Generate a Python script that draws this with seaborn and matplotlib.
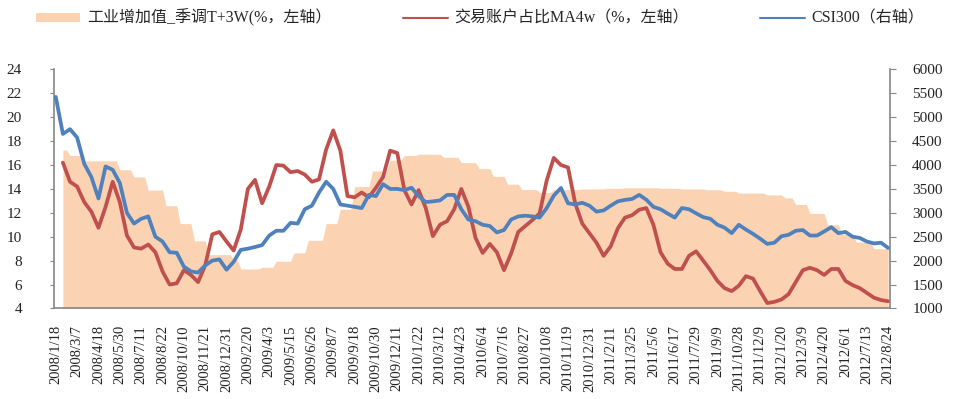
import numpy as np
import pandas as pd
import seaborn as sns
import matplotlib.pyplot as plt
from matplotlib.patches import Patch
from matplotlib.lines import Line2D

# --- data (weekly category axis, 2008/1/18 .. 2012/8/24)
n_weeks = 235
tick_labels = ['2008/1/18', '2008/3/7', '2008/4/18', '2008/5/30', '2008/7/11', '2008/8/22',
               '2008/10/10', '2008/11/21', '2008/12/31', '2009/2/20', '2009/4/3', '2009/5/15',
               '2009/6/26', '2009/8/7', '2009/9/18', '2009/10/30', '2009/12/11', '2010/1/22',
               '2010/3/12', '2010/4/23', '2010/6/4', '2010/7/16', '2010/8/27', '2010/10/8',
               '2010/11/19', '2010/12/31', '2011/2/11', '2011/3/25', '2011/5/6', '2011/6/17',
               '2011/7/29', '2011/9/9', '2011/10/28', '2011/12/9', '2012/1/20', '2012/3/9',
               '2012/4/20', '2012/6/1', '2012/7/13', '2012/8/24']

# industrial value added (monthly value, number of weeks it holds)
ip_values = [17.25, 16.8, 16.35, 15.6, 15.0, 13.9, 12.6, 11.1, 9.65, 8.5,
             8.1, 7.3, 7.45, 7.95, 8.65, 9.7, 11.1, 12.3, 14.2, 15.5,
             16.4, 16.8, 16.9, 16.65, 16.2, 15.7, 15.05, 14.4, 13.95, 13.7,
             13.95, 14.0, 14.05, 14.1, 14.05, 14.0, 13.93, 13.8, 13.65, 13.5,
             13.25, 12.7, 11.95, 11.0, 10.2, 9.55, 9.0]
ip_weeks = [2, 4, 10, 4, 4, 5, 4, 4, 4, 7,
            2, 6, 4, 5, 4, 5, 4, 4, 5, 5,
            4, 4, 7, 5, 5, 4, 4, 4, 5, 4,
            8, 7, 5, 10, 6, 7, 5, 4, 8, 5,
            3, 4, 5, 4, 4, 5, 5]

# trading account share MA4w (every 2nd week)
acct_share = [np.nan, 16.2, 14.6, 14.2, 12.9, 12.1, 10.75, 12.5, 14.6, 12.9,
              10.1, 9.1, 9.0, 9.35, 8.7, 7.1, 6.0, 6.1, 7.2, 6.8,
              6.2, 7.6, 10.2, 10.4, 9.6, 8.85, 10.6, 14.0, 14.76, 12.8,
              14.2, 16.0, 15.95, 15.4, 15.5, 15.2, 14.6, 14.8, 17.3, 18.9,
              17.2, 13.4, 13.3, 13.7, 13.3, 14.1, 15.0, 17.2, 17.0, 13.9,
              12.7, 13.9, 12.4, 10.05, 11.0, 11.3, 12.3, 14.0, 12.5, 9.9,
              8.64, 9.4, 8.7, 7.2, 8.6, 10.4, 10.9, 11.4, 11.95, 14.7,
              16.6, 16.0, 15.8, 12.8, 11.1, 10.3, 9.5, 8.4, 9.2, 10.7,
              11.6, 11.8, 12.26, 12.4, 11.0, 8.7, 7.75, 7.3, 7.3, 8.4,
              8.78, 8.0, 7.2, 6.3, 5.7, 5.45, 5.9, 6.7, 6.5, 5.45,
              4.45, 4.55, 4.75, 5.2, 6.2, 7.2, 7.4, 7.2, 6.8, 7.3,
              7.3, 6.3, 5.95, 5.7, 5.3, 4.9, 4.7, 4.6]

# CSI300 (every 2nd week)
csi300 = [5425, 4650, 4750, 4575, 4025, 3750, 3300, 3970, 3900, 3625,
          3000, 2775, 2875, 2925, 2500, 2400, 2175, 2165, 1875, 1775,
          1750, 1900, 2000, 2025, 1810, 1975, 2225, 2250, 2285, 2325,
          2525, 2625, 2625, 2790, 2775, 3075, 3150, 3425, 3650, 3500,
          3175, 3150, 3125, 3100, 3375, 3350, 3600, 3500, 3500, 3475,
          3525, 3350, 3225, 3240, 3260, 3375, 3375, 3075, 2860, 2825,
          2750, 2725, 2590, 2640, 2860, 2925, 2940, 2925, 2900, 3100,
          3360, 3520, 3200, 3175, 3210, 3150, 3025, 3050, 3150, 3240,
          3270, 3290, 3375, 3275, 3125, 3075, 2985, 2900, 3100, 3075,
          2990, 2910, 2875, 2750, 2690, 2575, 2750, 2650, 2560, 2460,
          2350, 2375, 2510, 2540, 2625, 2640, 2525, 2525, 2610, 2700,
          2575, 2600, 2500, 2475, 2400, 2360, 2375, 2265]

labels = ['工业增加值_季调T+3W(%，左轴）', '交易账户占比MA4w（%，左轴）', 'CSI300（右轴）']

# --- frames
week = np.arange(n_weeks)
ip = np.concatenate([[np.nan] * (n_weeks - sum(ip_weeks)), np.repeat(ip_values, ip_weeks)])
df2 = pd.DataFrame({'week': week[::2], 'acct': acct_share, 'csi': csi300})

c_area = '#FBD3B3'
c_red = '#C0504D'
c_blue = '#4F81BD'
c_axis = '#868686'

sns.set_style('white')
plt.rcParams['font.family'] = ['Liberation Serif', 'Noto Sans CJK SC']

fig = plt.figure(figsize=(9.6, 3.99), dpi=100)
ax = fig.add_axes([0.05625, 0.227, 0.8708, 0.599])
ax.fill_between(week, ip, 4, color=c_area, lw=0, zorder=1)
sns.lineplot(data=df2, x='week', y='acct', ax=ax, color=c_red, lw=2.7, zorder=3)

ax2 = ax.twinx()
sns.lineplot(data=df2, x='week', y='csi', ax=ax2, color=c_blue, lw=2.7)

ax.set_xlim(-0.5, n_weeks - 0.5)
ax.set_ylim(4, 24)
ax.set_yticks(np.arange(4, 25, 2))
ax2.set_ylim(1000, 6000)
ax2.set_yticks(np.arange(1000, 6001, 500))

ax.set_xticks(np.arange(0, n_weeks, 6))
ax.set_xticklabels(tick_labels, rotation=90, fontsize=10.5)
ax.set_xticks(np.arange(-0.5, n_weeks, 1), minor=True)
ax.tick_params(axis='x', which='major', length=0, pad=12)
ax.tick_params(axis='x', which='minor', direction='in', length=2.5, width=0.8, color=c_axis)
ax.tick_params(axis='y', which='major', direction='out', length=3, width=0.8, color=c_axis,
               labelsize=11, pad=20, labelcolor='#222222')
ax2.tick_params(axis='y', which='major', direction='out', length=4, width=0.8, color=c_axis,
                labelsize=11, pad=12, labelcolor='#222222')
for a in (ax, ax2):
    a.set_xlabel('')
    a.set_ylabel('')
    for s in a.spines.values():
        s.set_visible(False)
ax.spines['left'].set_visible(True)
ax.spines['bottom'].set_visible(True)
ax2.spines['right'].set_visible(True)
for s in (ax.spines['left'], ax.spines['bottom'], ax2.spines['right']):
    s.set_color(c_axis)
    s.set_linewidth(1.2)
ax.tick_params(axis='x', labelcolor='#222222')

handles = [Patch(facecolor=c_area, edgecolor='none'),
           Line2D([], [], color=c_red, lw=1.5),
           Line2D([], [], color=c_blue, lw=1.5)]
fig.legend(handles, labels, loc='center', bbox_to_anchor=(0.5, 0.955), ncol=3,
           frameon=False, fontsize=11.5, handlelength=2.8, handleheight=0.5,
           handletextpad=0.4, columnspacing=4.5)

fig.savefig('out.png', dpi=100)
